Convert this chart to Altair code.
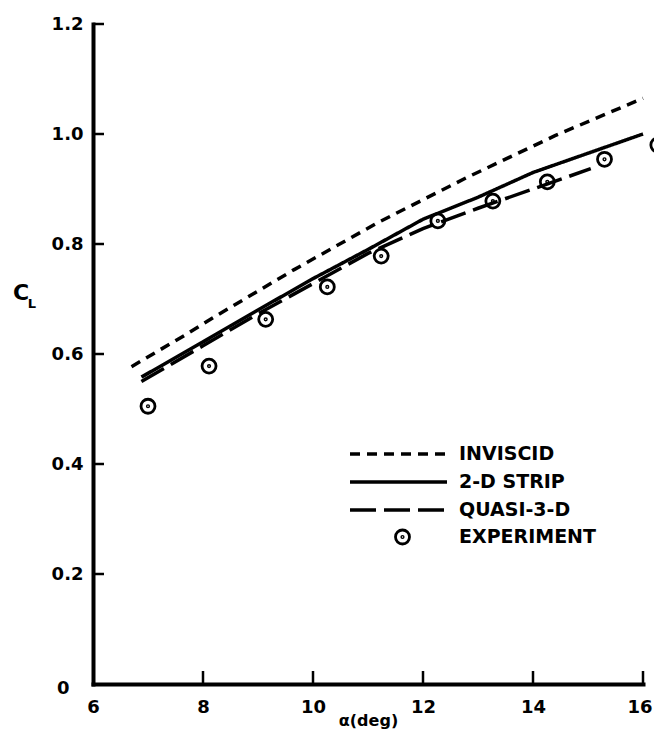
import altair as alt
import pandas as pd

# ---- data ----
series_names = ["INVISCID", "2-D STRIP", "QUASI-3-D"]

inv_x = [6.7, 7.7, 8.2, 9.65, 11.2, 12.8, 14.4, 16.0]
inv_y = [0.577, 0.636, 0.667, 0.753, 0.84, 0.921, 0.997, 1.065]

strip_x = [6.88, 8.0, 9.0, 10.0, 11.0, 12.0, 13.0, 14.0, 15.0, 16.0]
strip_y = [0.558, 0.622, 0.68, 0.737, 0.79, 0.845, 0.885, 0.93, 0.965, 1.0]

quasi_x = [6.88, 8.0, 9.0, 10.0, 11.0, 12.0, 13.0, 14.0, 15.05]
quasi_y = [0.55, 0.615, 0.673, 0.728, 0.783, 0.828, 0.865, 0.9, 0.937]

exp_x = [7.0, 8.11, 9.14, 10.26, 11.24, 12.27, 13.27, 14.26, 15.3, 16.27]
exp_y = [0.505, 0.578, 0.663, 0.722, 0.778, 0.842, 0.878, 0.913, 0.954, 0.98]

x_ticks = [6, 8, 10, 12, 14, 16]
y_ticks = [0, 0.2, 0.4, 0.6, 0.8, 1.0, 1.2]

# ---- tables ----
lines_df = pd.concat([
    pd.DataFrame({"alpha": inv_x, "cl": inv_y, "series": series_names[0]}),
    pd.DataFrame({"alpha": strip_x, "cl": strip_y, "series": series_names[1]}),
    pd.DataFrame({"alpha": quasi_x, "cl": quasi_y, "series": series_names[2]}),
], ignore_index=True)
exp_df = pd.DataFrame({"alpha": exp_x, "cl": exp_y, "kind": "EXPERIMENT"})
xt_df = pd.DataFrame({"alpha": x_ticks[1:]})
yt_df = pd.DataFrame({"cl": y_ticks[1:]})

FONT = "DejaVu Sans"
xscale = alt.Scale(domain=[6, 16], nice=False, zero=False)
yscale = alt.Scale(domain=[0, 1.2], nice=False, zero=False)

x_axis = alt.Axis(values=x_ticks, tickSize=0, domainWidth=4, domainColor="black",
                  domainCap="square", grid=False, labelFont=FONT, labelFontWeight="bold",
                  labelFontSize=18, labelColor="black", labelPadding=14, labelFlush=False,
                  labelAlign={"condition": {"test": "datum.value == 16", "value": "right"},
                              "value": "center"},
                  labelOffset={"condition": {"test": "datum.value == 16", "value": 9},
                               "value": 0},
                  title="α(deg)", titleFont=FONT, titleFontWeight="bold", titleFontSize=16,
                  titleColor="black", titleBaseline="alphabetic", titleY=41)
y_axis = alt.Axis(values=y_ticks, tickSize=0, domainWidth=4, domainColor="black",
                  domainCap="square", grid=False, labelFont=FONT, labelFontWeight="bold",
                  labelFontSize=18, labelColor="black",
                  labelPadding={"condition": {"test": "datum.value == 0", "value": 24}, "value": 10},
                  labelOffset={"condition": {"test": "datum.value == 0", "value": 4}, "value": 0},
                  labelFlush=False, title=None,
                  labelExpr="datum.value == 0 ? '0' : format(datum.value, '.1f')")

dash_legend = alt.Legend(title=None, orient="none", legendX=255, legendY=420,
                         symbolType="stroke", symbolSize=9409, symbolStrokeWidth=3.5,
                         symbolStrokeColor="black", labelFont=FONT, labelFontWeight="bold",
                         labelFontSize=19, labelColor="black", labelOffset=10,
                         rowPadding=8, clipHeight=20, padding=0)

ring_path = ("M-1,0A1,1 0 1,0 1,0A1,1 0 1,0 -1,0Z"
             "M-0.1,0A0.1,0.1 0 1,0 0.1,0A0.1,0.1 0 1,0 -0.1,0Z")
shape_legend = alt.Legend(title=None, orient="none", legendX=300, legendY=503,
                          symbolSize=196, symbolStrokeWidth=2.8, symbolStrokeColor="black",
                          labelFont=FONT, labelFontWeight="bold", labelFontSize=19,
                          labelColor="black", labelOffset=47, padding=0, clipHeight=20)

lines = alt.Chart(lines_df).mark_line(color="black", strokeWidth=3.5).encode(
    x=alt.X("alpha:Q", scale=xscale, axis=x_axis),
    y=alt.Y("cl:Q", scale=yscale, axis=y_axis),
    strokeDash=alt.StrokeDash("series:N", scale=alt.Scale(domain=series_names,
                              range=[[10, 7], [1, 0], [26, 8]]), legend=dash_legend),
    detail="series:N",
)

points = alt.Chart(exp_df).mark_point(color="black", filled=False, strokeWidth=2.8,
                                      size=196, opacity=1, clip=False).encode(
    x=alt.X("alpha:Q", scale=xscale),
    y=alt.Y("cl:Q", scale=yscale),
    shape=alt.Shape("kind:N", scale=alt.Scale(domain=["EXPERIMENT"], range=[ring_path]),
                    legend=shape_legend),
)

xticks = alt.Chart(xt_df).mark_rule(color="black", strokeWidth=2.5).encode(
    x=alt.X("alpha:Q", scale=xscale),
    y=alt.value(660), y2=alt.value(647),
)
yticks = alt.Chart(yt_df).mark_rule(color="black", strokeWidth=2.5).encode(
    y=alt.Y("cl:Q", scale=yscale),
    x=alt.value(0), x2=alt.value(11),
)

c_text = alt.Chart(pd.DataFrame({"t": ["C"]})).mark_text(
    font=FONT, fontSize=22, fontWeight="bold", color="black").encode(
    text="t:N", x=alt.value(-72), y=alt.value(269))
l_text = alt.Chart(pd.DataFrame({"t": ["L"]})).mark_text(
    font=FONT, fontSize=13, fontWeight="bold", color="black").encode(
    text="t:N", x=alt.value(-61), y=alt.value(280))

chart = alt.layer(lines, points, xticks, yticks, c_text, l_text).properties(
    width=550, height=660,
    padding={"left": 85, "top": 16, "right": 11, "bottom": 46},
    autosize=alt.AutoSizeParams(type="none"),
    background="white",
).configure_view(stroke=None)

chart.save("out.html", embed_options={"renderer": "svg", "actions": False})
